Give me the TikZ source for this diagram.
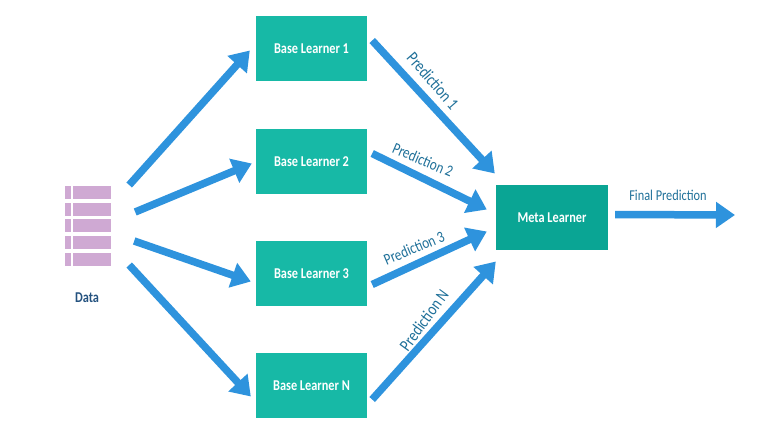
\documentclass[tikz,border=0pt]{standalone}
\usepackage{fontspec}
\setmainfont{Carlito}
\newfontfamily\narrowfont[FakeStretch=0.82]{Carlito}
\usetikzlibrary{arrows.meta}
\definecolor{baseteal}{HTML}{17B9A6}
\definecolor{metateal}{HTML}{0AA594}
\definecolor{flowblue}{HTML}{2E93DD}
\definecolor{rowpurple}{HTML}{CFA9D3}
\definecolor{labelblue}{HTML}{1F7099}
\definecolor{datablue}{HTML}{24527F}
\tikzset{
  learner/.style={fill=baseteal, text=white, font=\narrowfont\fontsize{15}{17}\selectfont\bfseries, minimum width=111pt, minimum height=65pt, inner sep=0pt},
  flow/.style={draw=flowblue, line width=7.5pt, -{Triangle[length=19pt,width=25pt]}},
  predlabel/.style={text=labelblue, font=\narrowfont\fontsize{15}{17}\selectfont, inner sep=0pt},
  datarow/.style={fill=rowpurple, draw=none}
}
\begin{document}
\begin{tikzpicture}[x=1pt,y=-1pt]
      \useasboundingbox (0,0) rectangle (779,431);
      \node[learner] (b1) at (311.5, 48.5) {Base Learner 1};
      \node[learner] (b2) at (311.5, 161.5) {Base Learner 2};
      \node[learner] (b3) at (311.5, 273.5) {Base Learner 3};
      \node[learner] (bN) at (311.5, 385.5) {Base Learner N};
      \node[learner, fill=metateal, minimum width=112pt] (meta) at (552, 217.5) {Meta Learner};
      \node[minimum width=46pt, minimum height=80pt, inner sep=0pt] (data) at (88, 226) {};
      \foreach \rowtop in {186, 203, 219, 236, 253} {
        \fill[datarow] (65, \rowtop) rectangle (71, \rowtop+13);
        \fill[datarow] (73, \rowtop) rectangle (111, \rowtop+13);
      }
      \node[text=datablue, font=\narrowfont\fontsize{15}{17}\selectfont\bfseries, inner sep=0pt] (datalabel) at (87, 298) {Data};
      \coordinate (out) at (735, 215);
      \draw[flow] ([shift={(18,-41)}]data.east) -- ([shift={(-6,2)}]b1.west);
      \draw[flow] ([shift={(24,-14)}]data.east) -- ([shift={(-4,2)}]b2.west);
      \draw[flow] ([shift={(23,15)}]data.east) -- ([shift={(-5,8)}]b3.west);
      \draw[flow] ([shift={(18,39)}]data.east) -- ([shift={(-5,11)}]bN.west);
      \draw[flow] ([shift={(5,-8)}]b1.east) -- ([shift={(-1,-44)}]meta.west);
      \draw[flow] ([shift={(5,-8)}]b2.east) -- ([shift={(-9,-8)}]meta.west);
      \draw[flow] ([shift={(5,11)}]b3.east) -- ([shift={(-9,14)}]meta.west);
      \draw[flow] ([shift={(5,14)}]bN.east) -- ([shift={(0,44)}]meta.west);
      \draw[flow] ([shift={(7,-3)}]meta.east) -- (out);
      \node[predlabel, rotate=-49, scale=1.15] (p1) at (433, 81) {Prediction 1};
      \node[predlabel, rotate=-23, scale=1.07] (p2) at (423, 160) {Prediction 2};
      \node[predlabel, rotate=23, scale=1.07] (p3) at (414, 248) {Prediction 3};
      \node[predlabel, rotate=54, scale=1.15] (pN) at (424, 320) {Prediction N};
      \node[predlabel] (pF) at (668, 195) {Final Prediction};
    \end{tikzpicture}
\end{document}
